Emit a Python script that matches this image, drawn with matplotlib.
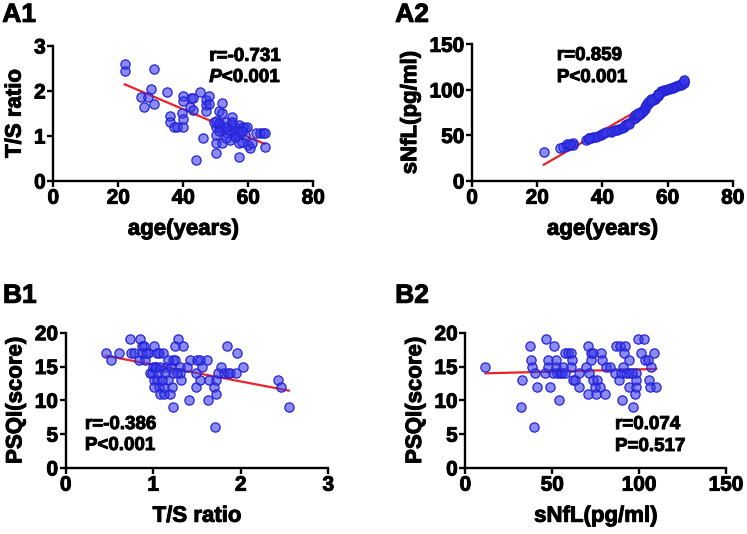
import numpy as np
import matplotlib
matplotlib.use("Agg")
import matplotlib.pyplot as plt
import matplotlib.patheffects as pe
from matplotlib.font_manager import FontProperties

plt.rcParams['font.family'] = ['Liberation Sans', 'DejaVu Sans']
plt.rcParams['font.weight'] = 'bold'
plt.rcParams['mathtext.fontset'] = 'custom'
plt.rcParams['mathtext.it'] = 'Liberation Sans:italic:bold'
plt.rcParams['mathtext.rm'] = 'Liberation Sans:bold'

# A1: age vs T/S ratio
age_a1 = [22, 22, 31, 30, 27, 29, 28, 31, 35, 36,
          36, 37, 38, 40, 39.5, 40, 40, 40, 42.5, 43,
          42, 43, 45, 47, 47, 47, 48, 48, 46, 44,
          50, 50, 50, 50, 50, 51, 52, 52, 51, 51,
          52, 52, 52.5, 53, 54, 54.5, 55, 55, 55.5, 56,
          56, 57, 57, 57, 57.5, 58, 58.5, 59, 59, 59.5,
          60, 60.5, 61, 62.5, 63.5, 64.5, 65, 65, 56.5, 54.5,
          53.5, 51, 53, 55, 56, 58, 49.5, 51, 53]
ts_a1 = [2.59, 2.44, 2.49, 2.04, 1.86, 1.86, 1.64, 1.72, 1.97, 1.44,
         1.30, 1.19, 1.21, 1.21, 1.50, 1.37, 1.89, 1.78, 1.85, 1.85,
         1.65, 1.58, 1.98, 1.81, 1.68, 1.56, 1.89, 1.70, 0.96, 0.47,
         0.63, 0.85, 1.02, 1.19, 1.34, 1.56, 1.74, 1.50, 1.28, 1.21,
         1.13, 0.85, 1.17, 1.32, 1.13, 0.91, 1.43, 1.27, 1.02, 1.21,
         1.06, 0.54, 0.84, 1.24, 1.06, 0.87, 1.21, 1.17, 1.02, 1.21,
         0.79, 0.74, 0.85, 1.07, 1.07, 1.06, 1.06, 0.76, 1.12, 1.10,
         1.06, 1.26, 1.20, 1.30, 0.98, 1.10, 1.32, 1.10, 0.95]

# A2: age vs sNfL
age_a2 = [22, 27, 28, 29, 29, 30, 31, 31, 35, 35.5,
          36, 36.5, 37, 38, 38.5, 39.5, 40, 40.5, 42.5, 43,
          44, 44.5, 45, 46, 46.5, 47, 47.5, 48, 49.5, 50,
          50, 50.5, 51, 51, 51.5, 52, 52, 52.5, 53, 53,
          53.5, 54, 54, 54.5, 55, 55, 55.5, 56, 56, 56.5,
          57, 57, 57.5, 58, 58, 58.5, 59, 59.5, 60, 60.5,
          61, 61.5, 62, 62.5, 63, 63.5, 64, 64, 64.5, 65,
          65, 65, 57, 55, 51, 48, 41, 36, 30]
snfl_a2 = [31.5, 36.5, 37.5, 38.5, 40.5, 39.5, 41.5, 39.5, 45.0, 46.5,
           47.5, 47.0, 48.0, 48.5, 49.5, 50.5, 52.0, 52.5, 54.0, 54.5,
           55.5, 56.0, 57.5, 58.5, 59.5, 61.0, 62.5, 64.0, 68.5, 69.5,
           72.0, 71.0, 72.5, 74.5, 73.5, 75.5, 77.0, 76.5, 79.5, 81.0,
           83.0, 85.0, 86.5, 87.5, 88.0, 89.5, 89.0, 90.0, 91.5, 92.0,
           93.5, 95.0, 96.0, 97.5, 99.0, 98.5, 99.5, 100.0, 100.5, 101.5,
           102.0, 102.5, 103.5, 104.0, 104.5, 105.0, 105.5, 106.5, 107.0, 108.0,
           109.5, 111.0, 95.5, 88.5, 73.0, 63.0, 53.5, 47.5, 40.5]

# B1: T/S ratio vs PSQI
ts_b1 = [0.46, 0.52, 0.61, 0.73, 0.75, 0.78, 0.85, 0.87, 0.89, 0.84,
         0.87, 0.91, 0.94, 0.96, 0.99, 1.01, 1.04, 1.07, 1.11, 1.00,
         1.03, 1.01, 1.04, 1.06, 1.01, 1.08, 1.12, 1.12, 1.19, 1.21,
         1.17, 1.15, 1.20, 1.23, 1.23, 1.25, 1.22, 1.25, 1.28, 1.34,
         1.31, 1.31, 1.32, 1.41, 1.42, 1.49, 1.50, 1.49, 1.53, 1.53,
         1.56, 1.61, 1.62, 1.64, 1.69, 1.72, 1.71, 1.72, 1.74, 1.77,
         1.81, 1.84, 1.85, 1.88, 1.95, 1.96, 2.02, 2.42, 2.46, 2.55,
         1.02, 1.05, 1.08, 1.10, 1.13, 1.17, 0.92, 1.27, 1.38]
psqi_b1 = [17, 16, 17, 19, 17, 17, 19, 18, 18, 16,
           17, 16, 17, 14, 14, 18, 17, 17, 17, 15,
           15, 13, 13, 12, 12, 11, 11, 12, 11, 12,
           13, 15, 15, 14, 16, 16, 9, 18, 19, 18,
           15, 14, 13, 10, 16, 14, 16, 12, 16, 13,
           15, 16, 10, 13, 12, 11, 6, 13, 14, 15,
           14, 18, 14, 14, 14, 17, 15, 13, 12, 9,
           15, 14, 15, 13, 14, 16, 17, 14, 15]

# B2: sNfL vs PSQI
snfl_b2 = [11.5, 32.2, 32.8, 37.0, 37.7, 38.5, 39.7, 40.2, 41.4, 45.6,
           46.6, 47.5, 47.5, 48.5, 50.4, 50.9, 51.9, 52.3, 52.9, 53.8,
           54.2, 55.6, 56.1, 57.1, 59.0, 60.9, 61.5, 60.9, 61.9, 63.0,
           65.3, 65.3, 69.5, 70.5, 71.1, 70.5, 72.0, 72.4, 73.4, 73.4,
           74.3, 75.3, 75.9, 77.2, 77.8, 78.4, 80.1, 81.0, 83.0, 85.8,
           86.8, 88.3, 88.7, 89.7, 90.2, 90.6, 91.9, 91.2, 92.5, 94.1,
           94.4, 94.4, 96.4, 97.5, 98.3, 98.3, 98.3, 99.2, 101.1, 102.7,
           103.6, 105.0, 105.9, 106.9, 106.5, 108.8, 109.8, 57.5, 96.0]
psqi_b2 = [15, 9, 13, 18, 16, 15, 6, 14, 12, 14,
           19, 16, 15, 12, 14, 18, 16, 15, 14, 10,
           14, 14, 15, 17, 17, 17, 16, 15, 13, 13,
           14, 12, 15, 18, 14, 11, 17, 16, 17, 13,
           12, 11, 13, 12, 17, 16, 11, 15, 15, 14,
           18, 13, 18, 14, 10, 15, 18, 17, 14, 14,
           16, 12, 9, 11, 12, 13, 14, 19, 17, 19,
           16, 16, 13, 15, 12, 17, 12, 14, 14]

face = (0.22, 0.22, 0.92, 0.58)
edge = '#2424d6'
line_color = '#e8232b'
tick_font = FontProperties(family='Liberation Sans', weight='bold', size=15)
# slight outline so the bold text reads as heavy as the original
heavy = [pe.withStroke(linewidth=0.7, foreground='black')]


def scatter_panel(ax, x, y, xlim, ylim, xticks, yticks, xlabel, ylabel):
    x = np.array(x)
    y = np.array(y)
    k, b = np.polyfit(x, y, 1)
    xs = np.array([x.min(), x.max()])
    ax.plot(xs, k * xs + b, color=line_color, lw=1.6, zorder=2)
    ax.scatter(x, y, s=44, facecolors=face, edgecolors=edge, linewidths=0.9,
               zorder=3, clip_on=False)
    ax.set_xlim(xlim)
    ax.set_ylim(ylim)
    ax.spines['top'].set_visible(False)
    ax.spines['right'].set_visible(False)
    for s in ['left', 'bottom']:
        ax.spines[s].set_linewidth(1.7)
    ax.tick_params(width=1.7, length=4, pad=1.5)
    ax.set_xticks(xticks)
    ax.set_yticks(yticks)
    ax.set_xticklabels([str(t) for t in xticks], fontproperties=tick_font)
    ax.set_yticklabels([str(t) for t in yticks], fontproperties=tick_font)
    for lab in ax.get_xticklabels() + ax.get_yticklabels():
        lab.set_path_effects(heavy)
    ax.set_xlabel(xlabel, fontsize=16, fontweight='bold', labelpad=8, path_effects=heavy)
    ax.set_ylabel(ylabel, fontsize=16, fontweight='bold', labelpad=6, path_effects=heavy)


def stat_text(ax, x, y, s):
    ax.text(x, y, s, transform=ax.transAxes, fontsize=13.5, fontweight='bold',
            path_effects=heavy)


fig = plt.figure(figsize=(7.47, 5.34), dpi=100)

ax1 = fig.add_axes([0.0714, 0.661, 0.348, 0.253])
scatter_panel(ax1, age_a1, ts_a1, (0, 80), (0, 3), [0, 20, 40, 60, 80], [0, 1, 2, 3],
              'age(years)', 'T/S ratio')
stat_text(ax1, 0.60, 0.889, 'r=-0.731')
stat_text(ax1, 0.60, 0.733, r'$\mathit{P}$<0.001')

ax2 = fig.add_axes([0.632, 0.661, 0.349, 0.256])
scatter_panel(ax2, age_a2, snfl_a2, (0, 80), (0, 150), [0, 20, 40, 60, 80], [0, 50, 100, 150],
              'age(years)', 'sNfL(pg/ml)')
stat_text(ax2, 0.325, 0.885, 'r=0.859')
stat_text(ax2, 0.325, 0.724, 'P<0.001')

ax3 = fig.add_axes([0.088, 0.1236, 0.3515, 0.2534])
scatter_panel(ax3, ts_b1, psqi_b1, (0, 3), (0, 20), [0, 1, 2, 3], [0, 5, 10, 15, 20],
              'T/S ratio', 'PSQI(score)')
stat_text(ax3, 0.073, 0.288, 'r=-0.386')
stat_text(ax3, 0.073, 0.133, 'P<0.001')

ax4 = fig.add_axes([0.623, 0.1236, 0.349, 0.2534])
scatter_panel(ax4, snfl_b2, psqi_b2, (0, 150), (0, 20), [0, 50, 100, 150], [0, 5, 10, 15, 20],
              'sNfL(pg/ml)', 'PSQI(score)')
stat_text(ax4, 0.574, 0.288, 'r=0.074')
stat_text(ax4, 0.574, 0.126, 'P=0.517')

# panel letters
for px, py, lab in [(0.003, 0.959, 'A1'), (0.529, 0.959, 'A2'),
                    (0.004, 0.433, 'B1'), (0.529, 0.433, 'B2')]:
    fig.text(px, py, lab, fontsize=19, fontweight='bold', path_effects=heavy)

fig.savefig('out.png', dpi=100)
